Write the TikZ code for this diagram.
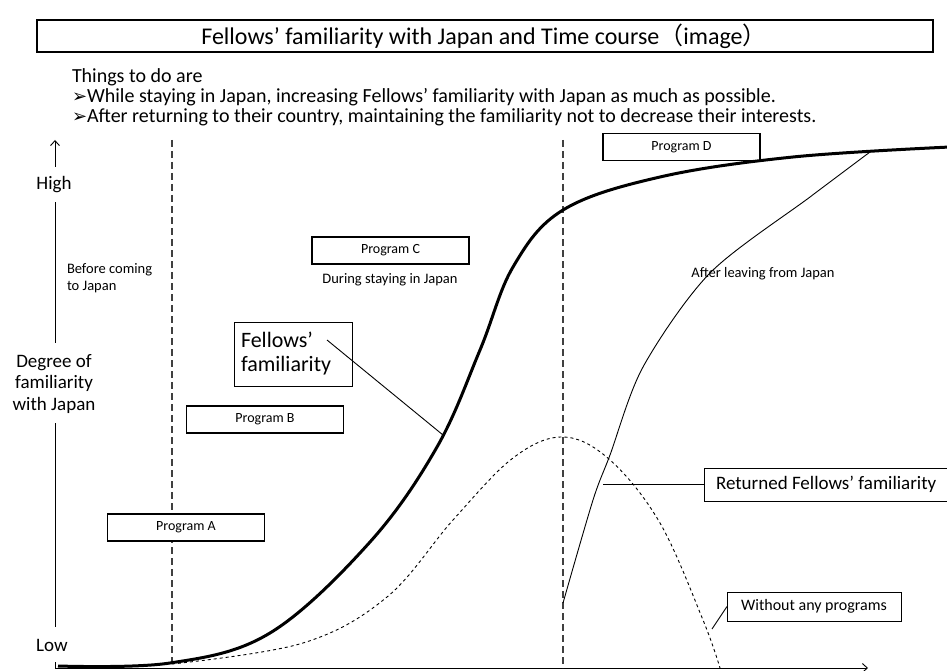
\documentclass[tikz,border=0pt]{standalone}
\usepackage{fontspec}
\setmainfont{Carlito}
\newfontfamily\cjk{Noto Sans CJK JP}
\newfontfamily\djv{DejaVu Sans}
\usetikzlibrary{arrows.meta}
\newcommand{\fs}[1]{\fontsize{#1}{#1}\selectfont}
\begin{document}
\begin{tikzpicture}[x=1pt,y=-1pt,
  every node/.style={inner sep=0pt, outer sep=0pt},
  titlebox/.style={draw, line width=2pt, minimum width=896pt, minimum height=32pt},
  progbox/.style={draw, line width=1.6pt, minimum width=157pt, minimum height=27pt, font=\fs{14}},
  labelbox/.style={draw, line width=1pt},
  small/.style={font=\fs{14.5}},
  big/.style={font=\fs{19}},
  vdash/.style={draw=black!75, line width=1.2pt, dash pattern=on 7pt off 4pt},
  thickcurve/.style={line width=3pt},
  thincurve/.style={line width=0.9pt},
  dashcurve/.style={line width=0.9pt, dash pattern=on 3pt off 3pt},
  axis/.style={line width=0.9pt},
  opentip/.style={-{Straight Barb[length=5pt,width=9pt]}}
]
\useasboundingbox (0,0) rectangle (947,671);
\fill[white] (0,0) rectangle (947,671);

% title
\node[titlebox] (title) at (485,36) {};
\node[font=\fs{24}] (titletext) at (484,36) {Fellows’ familiarity with Japan and Time course{\cjk（}image{\cjk）}};

% intro text
\node[anchor=base west, font=\fs{20}] (things) at (72,83) {Things to do are};
\node[anchor=base west, font=\fs{20}] (line1) at (72,103) {{\djv\fs{18}➢}While staying in Japan, increasing Fellows’ familiarity with Japan as much as possible.};
\node[anchor=base west, font=\fs{20}] (line2) at (72,123) {{\djv\fs{18}➢}After returning to their country, maintaining the familiarity not to decrease their interests.};

% axis labels
\node[big] (high) at (54,185) {High};
\node[big, align=center, font=\fs{19}\linespread{1.15}\selectfont] (degree) at (54,384) {Degree of\\familiarity\\with Japan};
\node[big] (low) at (52,645) {Low};
\coordinate (ytop) at (55,140);
\coordinate (origin) at (55,668);
\coordinate (xend) at (868,668);

\draw[axis, opentip] (55,167) -- (ytop);
\draw[axis] (55,202) -- (55,343);
\draw[axis] (55,423) -- (55,627);
\draw[axis, opentip] (55,662) -- (origin) -- (xend);

% dashed vertical separators
\coordinate (d1top) at (172,140);
\coordinate (d1bot) at (172,668);
\coordinate (d2top) at (563,140);
\coordinate (d2bot) at (563,668);
\draw[vdash] (d1top) -- (d1bot);
\draw[vdash] (d2top) -- (d2bot);

% program boxes
\node[progbox, fill=white] (pa) at (186,527.5) {Program A};
\node[progbox, fill=white] (pb) at (265,419.5) {Program B};
\node[progbox, fill=white] (pc) at (390.5,250.5) {Program C};
\node[progbox, fill=white] (pd) at (681.5,147) {Program D};

% phase labels
\node[small, align=left, anchor=north west] (before) at (67,264) {Before coming\\[2pt]to Japan};
\node[small] (during) at (390,280) {During staying in Japan};
\node[small] (after) at (763,274) {After leaving from Japan};

% curves
\draw[thickcurve] plot[smooth, tension=0.6] coordinates {(58,666) (170,663) (270,633) (370,542) (437,447) (480,350) (513,267) (563,210) (660,177) (793,157) (950,147)};
\draw[thincurve] plot[smooth, tension=0.5] coordinates {(563,603) (593,500) (610,455) (643,367) (710,273) (810,197) (870,152)};
\draw[dashcurve] plot[smooth, tension=0.6] coordinates {(172,664) (303,643) (387,597) (453,520) (513,458) (563,437) (610,460) (660,523) (703,620) (720,668)};

% callouts
\node[labelbox, big, font=\fs{22}, align=left, minimum width=118pt, minimum height=64pt, text width=104pt, inner xsep=7pt] (ff) at (293,354) {Fellows’\\[2pt]familiarity};
\coordinate (ffstart) at (327,340);
\coordinate (ffend) at (443,435);
\draw[thincurve] (ffstart) -- (ffend);

\node[labelbox, big, anchor=west, minimum height=33pt, inner xsep=12pt] (rf) at (704,484.5) {Returned Fellows’ familiarity};
\coordinate (rfend) at (603,484.5);
\draw[thincurve] (rf.west) -- (rfend);

\node[labelbox, font=\fs{16}, minimum width=174pt, minimum height=29pt] (wp) at (814,606.5) {Without any programs};
\coordinate (wpend) at (712,629);
\draw[thincurve] (wp.west) -- (wpend);
\end{tikzpicture}
\end{document}
